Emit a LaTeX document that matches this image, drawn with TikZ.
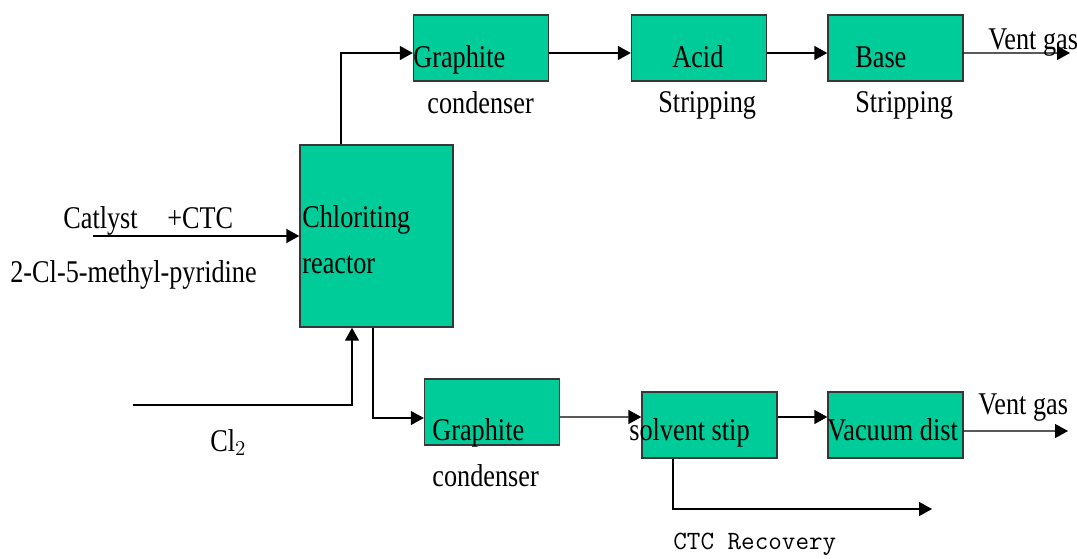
\documentclass[tikz,border=0pt]{standalone}
\usepackage{fontspec}
\setmainfont{Liberation Serif}[FakeStretch=0.83]
\usetikzlibrary{arrows.meta}
\definecolor{unitfill}{RGB}{0,204,153}
\definecolor{unitline}{RGB}{55,55,55}
\tikzset{
  unit/.style={draw=unitline, line width=0.8pt, fill=unitfill, inner sep=0pt,
    minimum width=2.7cm, minimum height=1.32cm},
  lbl/.style={anchor=base west, inner sep=0pt, font=\fontsize{18}{20}\selectfont},
  flow/.style={line width=0.8pt, -{Triangle[length=2.6mm,width=2.8mm]}}
}
\begin{document}
\begin{tikzpicture}[x=0.02cm,y=-0.02cm]
      \useasboundingbox (0,0) rectangle (1077,558);
      \node[unit] (gc1) at (481,48) {};
      \node[unit] (acid) at (699,48) {};
      \node[unit] (base) at (895.5,48) {};
      \node[unit, minimum width=3.06cm, minimum height=3.64cm] (reactor) at (376.5,236) {};
      \node[unit] (gc2) at (492,412) {};
      \node[unit] (solv) at (709.5,425) {};
      \node[unit] (vac) at (895.5,425) {};

      \coordinate (vent1) at (1070,53);
      \coordinate (vent2) at (1068,431);
      \coordinate (feedin) at (93,236);
      \coordinate (clin) at (133,405);
      \coordinate (ctcout) at (932,509);

      \draw[flow] ([xshift=-7.1mm]reactor.north) |- ([yshift=-1mm]gc1.west);
      \draw[flow] ([yshift=-1mm]gc1.east) -- ([yshift=-1mm]acid.west);
      \draw[flow] ([yshift=-1mm]acid.east) -- ([yshift=-1mm]base.west);
      \draw[flow] ([yshift=-1mm]base.east) -- (vent1);
      \draw[flow] (feedin) -- (reactor.west);
      \draw[flow] (clin) -| ([xshift=-4.9mm]reactor.south);
      \draw[flow] ([xshift=-0.7mm]reactor.south) |- ([yshift=-1.2mm]gc2.west);
      \draw[flow] ([yshift=-1mm]gc2.east) -- ([yshift=1.6mm]solv.west);
      \draw[flow] ([yshift=1.6mm]solv.east) -- ([yshift=1.6mm]vac.west);
      \draw[flow] ([yshift=-1.2mm]vac.east) -- (vent2);
      \draw[flow] ([xshift=-7.3mm]solv.south) |- (ctcout);

      \node[lbl] (gc1a) at (413,67) {Graphite};
      \node[lbl] (gc1b) at (427,113) {condenser};
      \node[lbl] (acida) at (672,67) {Acid};
      \node[lbl] (acidb) at (658,112) {Stripping};
      \node[lbl] (basea) at (855,67) {Base};
      \node[lbl] (baseb) at (855,112) {Stripping};
      \node[lbl] (vent1t) at (988,49) {Vent gas};
      \node[lbl] (cat) at (63,228) {Catlyst};
      \node[lbl] (ctc) at (167,228) {+CTC};
      \node[lbl] (pyr) at (10,282) {2-Cl-5-methyl-pyridine};
      \node[lbl] (reaca) at (302,227) {Chloriting};
      \node[lbl] (reacb) at (302,273) {reactor};
      \node[lbl] (cl2) at (210,451) {Cl$_2$};
      \node[lbl] (gc2a) at (432,440) {Graphite};
      \node[lbl] (gc2b) at (432,486) {condenser};
      \node[lbl] (solvt) at (629,440) {solvent stip};
      \node[lbl] (vact) at (827,440) {Vacuum dist};
      \node[lbl] (vent2t) at (978,414) {Vent gas};
      \node[lbl, font=\fontsize{15}{17}\ttfamily] (rec) at (673,549) {CTC Recovery};
    \end{tikzpicture}
\end{document}
